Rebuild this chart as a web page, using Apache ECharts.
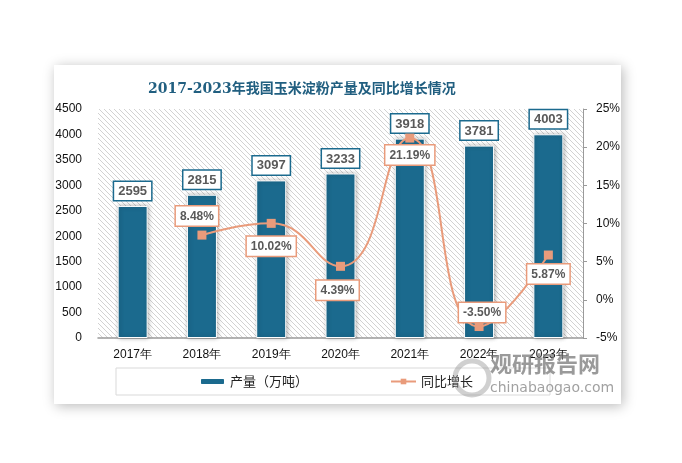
<!DOCTYPE html>
<html><head><meta charset="utf-8">
<script src="https://cdn.jsdelivr.net/npm/echarts@6/dist/echarts.min.js"></script>
<style>html,body{margin:0;padding:0;background:#fff}#c{width:682px;height:463px}</style>
</head><body><div id="c"></div>
<script>
const years = ['2017年','2018年','2019年','2020年','2021年','2022年','2023年'];
const output = [2595, 2815, 3097, 3233, 3918, 3781, 4003];
const growth = [null, 8.48, 10.02, 4.39, 21.19, -3.50, 5.87];
const leftMin = 0, leftMax = 4500, leftStep = 500;
const rightMin = -5, rightMax = 25, rightStep = 5;
const titleText = '2017-2023年我国玉米淀粉产量及同比增长情况';
const seriesNames = ['产量（万吨）', '同比增长'];

// label placement for growth labels (style only)
const growthLabelPlace = [
  null,
  {position:'top', distance:5, offset:[-5,0]},
  {position:'bottom', distance:9, offset:[0,0]},
  {position:'bottom', distance:10, offset:[-3,0]},
  {position:'bottom', distance:3, offset:[0,0]},
  {position:'top', distance:0, offset:[3,0]},
  {position:'bottom', distance:5, offset:[0,0]}
];

const BLUE = '#1b6a8e', SALMON = '#e99b7b';
const pc = document.createElement('canvas'); pc.width = 5; pc.height = 5;
const px = pc.getContext('2d'); px.fillStyle = '#ffffff'; px.fillRect(0,0,5,5);
px.fillStyle = '#d2d2d2'; for (let i = 0; i < 5; i++) px.fillRect(i, i, 1, 1);

const chart = echarts.init(document.getElementById('c'), null, {renderer:'canvas'});
const FONT = 'Liberation Sans, Arial, sans-serif';
chart.setOption({
  animation: false,
  backgroundColor: '#ffffff',
  title: {text: titleText, left: 143, top: 77,
    textStyle: {fontSize: 14, fontWeight: 'bold', color: '#215f80', fontFamily: 'DejaVu Serif, Noto Sans CJK SC'}},
  grid: {left: 98, right: 99, top: 109, bottom: 125, show: true, borderWidth: 0,
    backgroundColor: {image: pc, repeat: 'repeat'}},
  legend: {left: 116, top: 368, padding: [7, 77, 7, 83], borderColor: '#d9d9d9', borderWidth: 1,
    itemWidth: 25, itemHeight: 7, itemGap: 82,
    textStyle: {fontSize: 13, color: '#222', fontFamily: 'Noto Sans CJK SC'},
    data: seriesNames},
  xAxis: {type: 'category', data: years,
    axisLine: {lineStyle: {color: '#9a9a9a', width: 1.5}}, axisTick: {show: false},
    axisLabel: {color: '#111', fontSize: 12, margin: 11, fontFamily: FONT}},
  yAxis: [
    {type: 'value', min: leftMin, max: leftMax, interval: leftStep,
      axisLine: {show: false}, axisTick: {show: false}, splitLine: {show: false},
      axisLabel: {color: '#111', fontSize: 12, margin: 16, fontFamily: FONT, formatter: v => String(v)}},
    {type: 'value', min: rightMin, max: rightMax, interval: rightStep, position: 'right',
      axisLine: {show: true, lineStyle: {color: '#9a9a9a'}}, axisTick: {show: true, length: 4, lineStyle: {color: '#9a9a9a'}},
      splitLine: {show: false},
      axisLabel: {color: '#111', fontSize: 12, margin: 13, fontFamily: FONT, formatter: v => v + '%'}}
  ],
  series: [
    {name: seriesNames[0], type: 'bar', data: output, barWidth: 30, yAxisIndex: 0,
      itemStyle: {color: BLUE, borderColor: '#fff', borderWidth: 1,
        shadowBlur: 4, shadowColor: 'rgba(0,0,0,0.3)', shadowOffsetX: 1, shadowOffsetY: 0},
      label: {show: true, position: 'top', distance: 6, color: '#595959', fontWeight: 'bold', fontSize: 13,
        fontFamily: FONT, backgroundColor: '#fff', borderColor: BLUE, borderWidth: 1.5, padding: [3, 4, 2, 4]}},
    {name: seriesNames[1], type: 'line', data: growth.map((v, i) => v === null ? null : {
        value: v, label: growthLabelPlace[i]}), yAxisIndex: 1, smooth: 0.5,
      symbol: 'rect', symbolSize: 9, z: 5,
      lineStyle: {color: SALMON, width: 2}, itemStyle: {color: SALMON},
      label: {show: true, color: '#595959', fontWeight: 'bold', fontSize: 12, fontFamily: FONT,
        backgroundColor: '#fff', borderColor: SALMON, borderWidth: 1.5, padding: [4, 4, 3, 4],
        formatter: p => p.value.toFixed(2) + '%'}}
  ],
  graphic: [
    {type: 'rect', z: -100, shape: {x: 54, y: 65, width: 567, height: 339},
      style: {fill: '#fff', shadowBlur: 12, shadowColor: 'rgba(0,0,0,0.28)', shadowOffsetX: 2, shadowOffsetY: 2}},
    {type: 'circle', z: 100, shape: {cx: 472, cy: 378, r: 17}, style: {fill: 'none', stroke: 'rgba(150,150,150,0.45)', lineWidth: 5}},
    {type: 'text', z: 100, left: 490, top: 353, style: {text: '观研报告网', fill: 'rgba(120,120,120,0.75)', fontSize: 22, fontWeight: 'bold', fontFamily: 'Noto Sans CJK SC'}},
    {type: 'text', z: 100, left: 490, top: 381, style: {text: 'chinabaogao.com', fill: 'rgba(130,130,130,0.75)', fontSize: 14, fontFamily: 'DejaVu Sans'}}
  ]
});
</script></body></html>
